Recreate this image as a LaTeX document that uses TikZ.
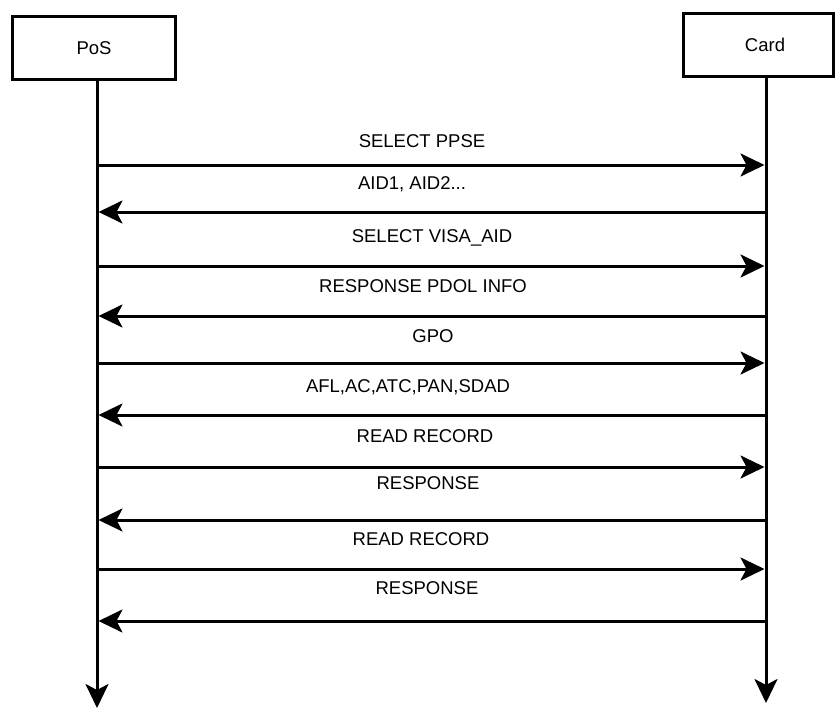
\documentclass[tikz,border=0pt]{standalone}
\usepackage{fontspec}
\setmainfont{Liberation Sans}
\usetikzlibrary{arrows.meta}
\begin{document}
\begin{tikzpicture}[x=1pt,y=-1pt,
  tip/.style={-{Stealth[length=24pt,width=23pt,inset=6pt]}},
  actor/.style={draw, line width=3pt, inner sep=0pt, font=\fontsize{18.5}{22}\selectfont},
  lifeline/.style={line width=3pt, tip},
  msg/.style={line width=3pt, tip, shorten >=1.5pt},
  lbl/.style={inner sep=0pt, font=\fontsize{18.5}{22}\selectfont}]
\useasboundingbox (0,0) rectangle (835,709);

% participants
\node[actor, minimum width=163pt, minimum height=63pt] (pos) at (94,48) {PoS};
\node[actor, minimum width=150pt, minimum height=63pt] (card) at (758.5,45) {\hspace*{13pt}Card};

% lifelines
\coordinate (posTop) at (97,81);
\coordinate (posEnd) at (97,708);
\coordinate (cardTop) at (766,78);
\coordinate (cardEnd) at (766,703);
\draw[lifeline] (posTop) -- (posEnd);
\draw[lifeline] (cardTop) -- (cardEnd);

% message end points on the two lifelines
\foreach \i/\y in {1/165,2/212,3/266,4/316,5/363,6/415,7/467,8/520,9/569,10/621}{
  \coordinate (p\i) at (97,\y);
  \coordinate (c\i) at (766,\y);
}
\coordinate (c4x) at (768,316);

% messages
\draw[msg] (p1) -- (c1);
\draw[msg] (c2) -- (p2);
\draw[msg] (p3) -- (c3);
\draw[msg] (c4x) -- (p4);
\draw[msg] (p5) -- (c5);
\draw[msg] (c6) -- (p6);
\draw[msg] (p7) -- (c7);
\draw[msg] (c8) -- (p8);
\draw[msg] (p9) -- (c9);
\draw[msg] (c10) -- (p10);

% message labels
\node[lbl] (l1) at (422,141) {SELECT PPSE};
\node[lbl] (l2) at (412,184) {AID1, AID2...};
\node[lbl] (l3) at (432,238) {SELECT VISA\_AID};
\node[lbl] (l4) at (423,286) {RESPONSE PDOL INFO};
\node[lbl] (l5) at (433,336) {GPO};
\node[lbl] (l6) at (408,387) {AFL,AC,ATC,PAN,SDAD};
\node[lbl] (l7) at (425,436) {READ RECORD};
\node[lbl] (l8) at (428,483) {RESPONSE};
\node[lbl] (l9) at (421,539) {READ RECORD};
\node[lbl] (l10) at (427,588) {RESPONSE};
\end{tikzpicture}
\end{document}
